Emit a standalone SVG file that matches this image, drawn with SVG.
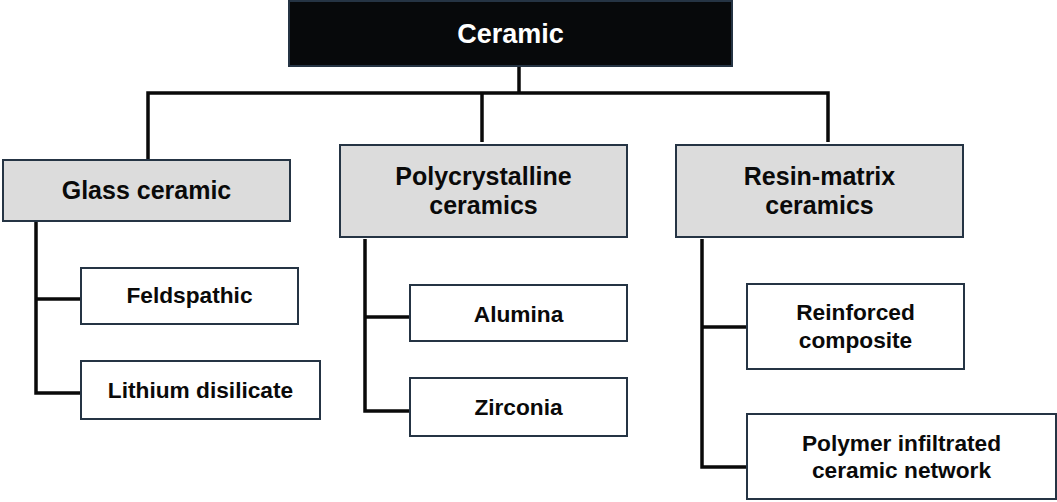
<svg xmlns="http://www.w3.org/2000/svg" width="1057" height="502" viewBox="0 0 1057 502">
<style>
.bg{fill:#ffffff}
.root{fill:#07090b;stroke:#253444;stroke-width:2}
.cat{fill:#dcdcdc;stroke:#253444;stroke-width:2}
.leaf{fill:#ffffff;stroke:#253444;stroke-width:2}
.t{font-family:"Liberation Sans",Arial,sans-serif;font-weight:bold;text-anchor:middle;fill:#0a0a0a}
.t0{font-size:27px;fill:#ffffff}
.t1{font-size:25px}
.t2{font-size:22.7px}
.conn{fill:none;stroke:#0a0a0a;stroke-width:3.5;stroke-linejoin:miter;stroke-linecap:butt}
</style>
<rect class="bg" x="0" y="0" width="1057" height="502"/>
<g id="connectors">
<path class="conn" d="M519 66 V93"/>
<path class="conn" d="M148 160 V93 H828 V142"/>
<path class="conn" d="M482 93 V142"/>
<path class="conn" d="M36 221 V393 H81"/>
<path class="conn" d="M36 299 H81"/>
<path class="conn" d="M365 239 V411 H410"/>
<path class="conn" d="M365 317 H410"/>
<path class="conn" d="M702 239 V467 H747"/>
<path class="conn" d="M702 327 H747"/>
</g>
<g id="ceramic">
<rect class="root" x="289" y="1" width="443" height="65"/>
<text class="t t0" x="510.5" y="43">Ceramic</text>
</g>
<g id="glass-ceramic">
<rect class="cat" x="3" y="160" width="287" height="61"/>
<text class="t t1" x="146.5" y="199">Glass ceramic</text>
</g>
<g id="polycrystalline">
<rect class="cat" x="340" y="145" width="287" height="92"/>
<text class="t t1" x="483.5" y="185">Polycrystalline</text>
<text class="t t1" x="483.5" y="214">ceramics</text>
</g>
<g id="resin-matrix">
<rect class="cat" x="676" y="145" width="287" height="92"/>
<text class="t t1" x="819.5" y="185">Resin-matrix</text>
<text class="t t1" x="819.5" y="214">ceramics</text>
</g>
<g id="feldspathic">
<rect class="leaf" x="81" y="268" width="217" height="56"/>
<text class="t t2" x="189.5" y="303">Feldspathic</text>
</g>
<g id="lithium-disilicate">
<rect class="leaf" x="81" y="361" width="239" height="58"/>
<text class="t t2" x="200.5" y="398">Lithium disilicate</text>
</g>
<g id="alumina">
<rect class="leaf" x="410" y="285" width="217" height="56"/>
<text class="t t2" x="518.5" y="322">Alumina</text>
</g>
<g id="zirconia">
<rect class="leaf" x="410" y="378" width="217" height="58"/>
<text class="t t2" x="518.5" y="415">Zirconia</text>
</g>
<g id="reinforced-composite">
<rect class="leaf" x="747" y="284" width="217" height="85"/>
<text class="t t2" x="855.5" y="320">Reinforced</text>
<text class="t t2" x="855.5" y="348">composite</text>
</g>
<g id="polymer-infiltrated">
<rect class="leaf" x="747" y="414" width="309" height="85"/>
<text class="t t2" x="901.5" y="451">Polymer infiltrated</text>
<text class="t t2" x="901.5" y="478">ceramic network</text>
</g>
</svg>
